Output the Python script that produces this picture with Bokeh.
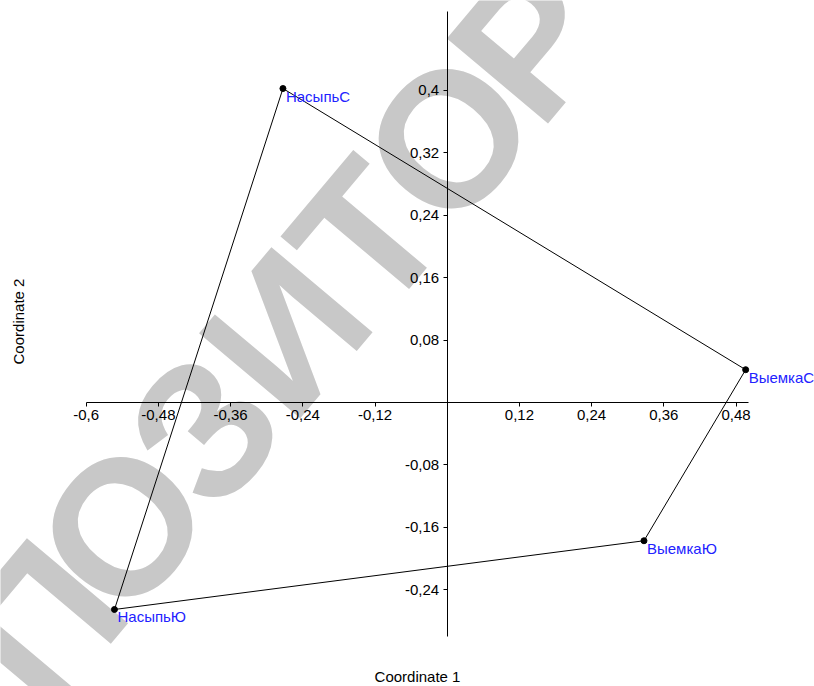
from bokeh.plotting import figure
from bokeh.models import (Range1d, LinearAxis, FixedTicker, CustomJSTickFormatter,
                          ColumnDataSource, Label)
from bokeh.core.properties import value
from bokeh.embed import file_html
from bokeh.resources import INLINE
import math

# ---- data ----
names = ["НасыпьС", "ВыемкаС", "ВыемкаЮ", "НасыпьЮ"]
coord1 = [-0.273, 0.496, 0.327, -0.553]
coord2 = [0.402, 0.042, -0.177, -0.265]
x_ticks = [-0.6, -0.48, -0.36, -0.24, -0.12, 0.12, 0.24, 0.36, 0.48]
y_ticks = [-0.24, -0.16, -0.08, 0.08, 0.16, 0.24, 0.32, 0.4]
x_label = "Coordinate 1"
y_label = "Coordinate 2"
watermark = "ПОЗИТОР"

FONT = "Liberation Sans"
W, H = 814, 686
X0, X1 = -0.7424, 0.6104
Y0, Y1 = -0.3636, 0.5147

p = figure(width=W, height=H, output_backend="svg", toolbar_location=None,
           x_range=Range1d(X0, X1), y_range=Range1d(Y0, Y1),
           x_axis_location=None, y_axis_location=None, min_border=0)
p.outline_line_color = None
p.background_fill_color = "white"
p.border_fill_color = "white"
p.grid.grid_line_color = None
p.xgrid.visible = False
p.ygrid.visible = False


def sx(px):
    return X0 + px * (X1 - X0) / W


def sy(py):
    return Y1 - py * (Y1 - Y0) / H


# watermark, one letter at a time along a diagonal (decoration)
wm_start = (122, 526)      # screen anchor of the first "О"
wm_step = (81.5, -97)      # screen step per letter
wm_angle = math.atan2(-wm_step[1], wm_step[0])
for i, ch in enumerate(watermark):
    cx = wm_start[0] + (i - 1) * wm_step[0]
    cy = wm_start[1] + (i - 1) * wm_step[1]
    p.add_layout(Label(x=sx(cx), y=sy(cy), text=ch, angle=wm_angle,
                       text_font=FONT, text_font_style="bold", text_font_size="192px",
                       text_color="#c8c8c8", text_align="center", text_baseline="middle",
                       level="underlay"))

fmt = CustomJSTickFormatter(code="return tick.toFixed(2).replace(/\\.?0+$/, '').replace('.', ',');")

xaxis = LinearAxis(fixed_location=0, bounds=(-0.6, 0.5), ticker=FixedTicker(ticks=x_ticks),
                   formatter=fmt)
yaxis = LinearAxis(fixed_location=0, bounds=(-0.3, 0.5), ticker=FixedTicker(ticks=y_ticks),
                   formatter=fmt)
for ax in (xaxis, yaxis):
    ax.axis_line_color = "black"
    ax.axis_line_width = 1
    ax.major_tick_in = 0
    ax.major_tick_out = 4
    ax.major_tick_line_color = "black"
    ax.minor_tick_line_color = None
    ax.major_label_text_font = FONT
    ax.major_label_text_font_size = "15px"
    ax.major_label_text_color = "black"
    ax.major_label_standoff = 4
xaxis.major_label_standoff = 3
p.add_layout(xaxis, "below")
p.add_layout(yaxis, "left")

# hull polygon
hx = coord1 + [coord1[0]]
hy = coord2 + [coord2[0]]
p.line(hx, hy, line_color="black", line_width=1)

src = ColumnDataSource(dict(x=coord1, y=coord2, name=names))
p.scatter("x", "y", source=src, size=6, color="black")
p.text("x", "y", text="name", source=src, x_offset=3, y_offset=-1,
       text_font=value(FONT), text_font_size="15px", text_color="#2222ff",
       text_align="left", text_baseline="top")

p.add_layout(Label(x=-0.0494, y=-0.351, text=x_label, text_font=FONT,
                   text_font_size="15px", text_color="black",
                   text_align="center", text_baseline="middle"))
p.add_layout(Label(x=-0.7125, y=0.1037, text=y_label, text_font=FONT,
                   text_font_size="15px", text_color="black", angle=1.5708,
                   text_align="center", text_baseline="middle"))

open("out.html", "w").write(file_html(p, INLINE))
